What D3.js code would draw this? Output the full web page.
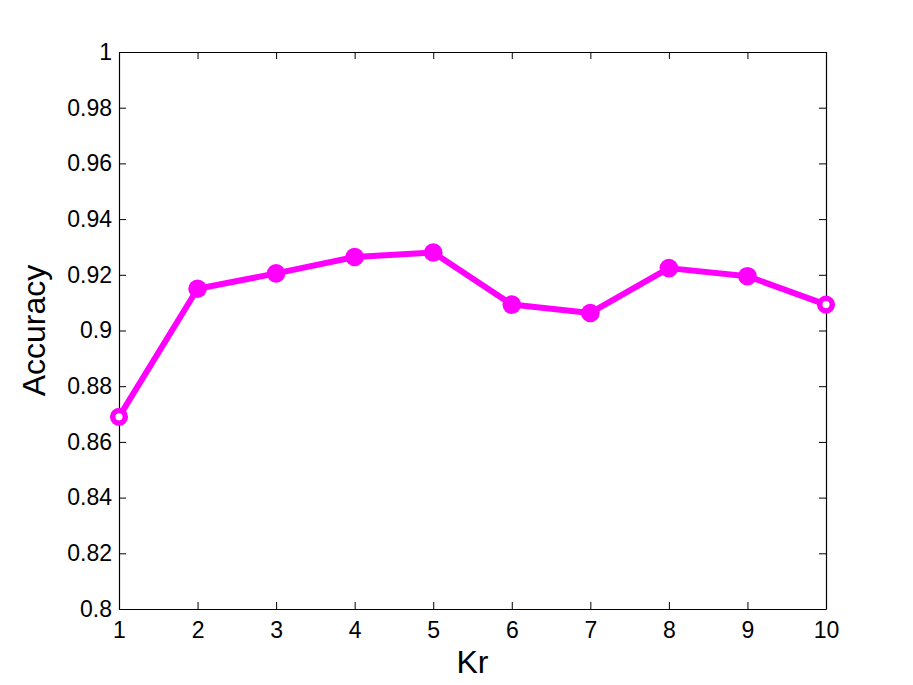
<!DOCTYPE html>
<html><head><meta charset="utf-8">
<script src="https://cdn.jsdelivr.net/npm/d3@7"></script>
<style>body{margin:0;background:#fff}svg{display:block}</style>
</head><body>
<script>
const categories = [1,2,3,4,5,6,7,8,9,10];
const accuracy = [0.869,0.915,0.9205,0.9264,0.928,0.9093,0.9063,0.9224,0.9195,0.9093];
const yTicks = [0.8,0.82,0.84,0.86,0.88,0.9,0.92,0.94,0.96,0.98,1];
const yTickLabels = ["0.8","0.82","0.84","0.86","0.88","0.9","0.92","0.94","0.96","0.98","1"];

const W=913,H=685, L=119, R=826, T=52, B=609;
const svg=d3.select("body").append("svg").attr("width",W).attr("height",H);
const x=d3.scaleLinear().domain([1,10]).range([L,R]);
const y=d3.scaleLinear().domain([0.8,1]).range([B,T]);
const font="'Liberation Sans', Arial, Helvetica, sans-serif";

const tl=7;
const gb=svg.append("g").attr("transform",`translate(0,${B})`)
  .call(d3.axisBottom(x).tickValues(categories).tickFormat(d3.format("d")).tickSizeInner(-tl).tickSizeOuter(0).tickPadding(13));
const gl=svg.append("g").attr("transform",`translate(${L},0)`)
  .call(d3.axisLeft(y).tickValues(yTicks).tickFormat((d,i)=>yTickLabels[i]).tickSizeInner(-tl).tickSizeOuter(0).tickPadding(7));
const gt=svg.append("g").attr("transform",`translate(0,${T})`)
  .call(d3.axisTop(x).tickValues(categories).tickFormat("").tickSizeInner(-tl).tickSizeOuter(0));
const gr=svg.append("g").attr("transform",`translate(${R},0)`)
  .call(d3.axisRight(y).tickValues(yTicks).tickFormat("").tickSizeInner(-tl).tickSizeOuter(0));
[gb,gl,gt,gr].forEach(g=>{
  g.selectAll(".domain").attr("stroke","#000").attr("stroke-width",1.2);
  g.selectAll(".tick line").attr("stroke","#000").attr("stroke-width",1);
  g.selectAll("text").attr("font-family",font).attr("font-size",23).attr("fill","#000");
});
gb.selectAll("text").attr("dy","0.71em");

svg.append("path").datum(categories.map((c,i)=>[c,accuracy[i]]))
  .attr("fill","none").attr("stroke","#ff00ff").attr("stroke-width",6).attr("stroke-linejoin","round")
  .attr("d",d3.line().x(d=>x(d[0])).y(d=>y(d[1])));

const isEnd = i => i===0 || i===categories.length-1;
svg.selectAll("circle.m").data(categories.map((c,i)=>[c,accuracy[i],i])).enter().append("circle")
  .attr("cx",d=>x(d[0])).attr("cy",d=>y(d[1]))
  .attr("r",d=>isEnd(d[2])?6.3:9.3)
  .attr("fill",d=>isEnd(d[2])?"#fff":"#ff00ff")
  .attr("stroke",d=>isEnd(d[2])?"#ff00ff":"none")
  .attr("stroke-width",5.5);

svg.append("text").attr("x",(L+R)/2).attr("y",673).attr("text-anchor","middle")
  .attr("font-family",font).attr("font-size",32).text("Kr");
svg.append("text").attr("transform",`translate(45,${(T+B)/2}) rotate(-90)`).attr("text-anchor","middle")
  .attr("font-family",font).attr("font-size",32).text("Accuracy");
</script>
</body></html>
